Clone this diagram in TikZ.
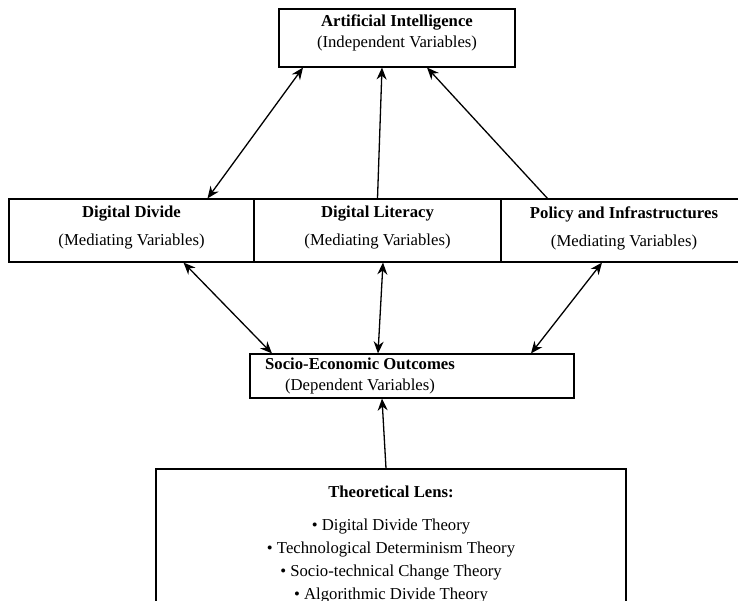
\documentclass[tikz,border=0pt]{standalone}
\usepackage{fontspec}
\setmainfont{Liberation Serif}
\usetikzlibrary{arrows.meta}

\begin{document}
\begin{tikzpicture}[x=1pt,y=-1pt,
   box/.style={draw,line width=1.1pt,inner sep=0pt},
   txt/.style={align=center,font=\fontsize{16.7}{21}\selectfont},
   oneway/.style={line width=1.3pt,-{Stealth[length=12pt,width=10pt]}},
   twoway/.style={line width=1.3pt,{Stealth[length=12pt,width=10pt]}-{Stealth[length=12pt,width=10pt]}}]

\useasboundingbox (0,0) rectangle (738,601);

\node[box,minimum width=236,minimum height=58] (ai) at (397,38) {};
\node[box,minimum width=245,minimum height=63] (dd) at (131.5,230.5) {};
\node[box,minimum width=247,minimum height=63] (dl) at (377.5,230.5) {};
\node[box,minimum width=249,minimum height=63] (pi) at (625.5,230.5) {};
\node[box,minimum width=324,minimum height=44] (seo) at (412,376) {};
\node[box,minimum width=470,minimum height=172] (tl) at (391,555) {};

\node[txt] (aitxt) at (397,33) {\textbf{Artificial Intelligence}\\(Independent Variables)};
\node[txt] (ddtxt) at (131.5,228) {\textbf{Digital Divide}\\[7pt](Mediating Variables)};
\node[txt] (dltxt) at (377.5,228) {\textbf{Digital Literacy}\\[7pt](Mediating Variables)};
\node[txt] (pitxt) at (624,228) {\textbf{Policy and Infrastructures}\\[7pt](Mediating Variables)};
\node[txt] (seotxt) at (360,376) {\textbf{Socio-Economic Outcomes}\\(Dependent Variables)};
\node[txt,font=\fontsize{16.7}{23}\selectfont] (tltxt) at (391,545) {\textbf{Theoretical Lens:}\\[10pt]
   \textbullet{} Digital Divide Theory\\
   \textbullet{} Technological Determinism Theory\\
   \textbullet{} Socio-technical Change Theory\\
   \textbullet{} Algorithmic Divide Theory};

\draw[twoway] ([xshift=-94]ai.south) -- ([xshift=76]dd.north);
\draw[oneway] (dl.north) -- ([xshift=-15]ai.south);
\draw[oneway] ([xshift=-78]pi.north) -- ([xshift=30]ai.south);
\draw[twoway] ([xshift=52]dd.south) -- ([xshift=-140]seo.north);
\draw[twoway] ([xshift=5.5]dl.south) -- ([xshift=-34]seo.north);
\draw[twoway] ([xshift=-23.5]pi.south) -- ([xshift=119]seo.north);
\draw[oneway] ([xshift=-5]tl.north) -- ([xshift=-30]seo.south);

\end{tikzpicture}
\end{document}
